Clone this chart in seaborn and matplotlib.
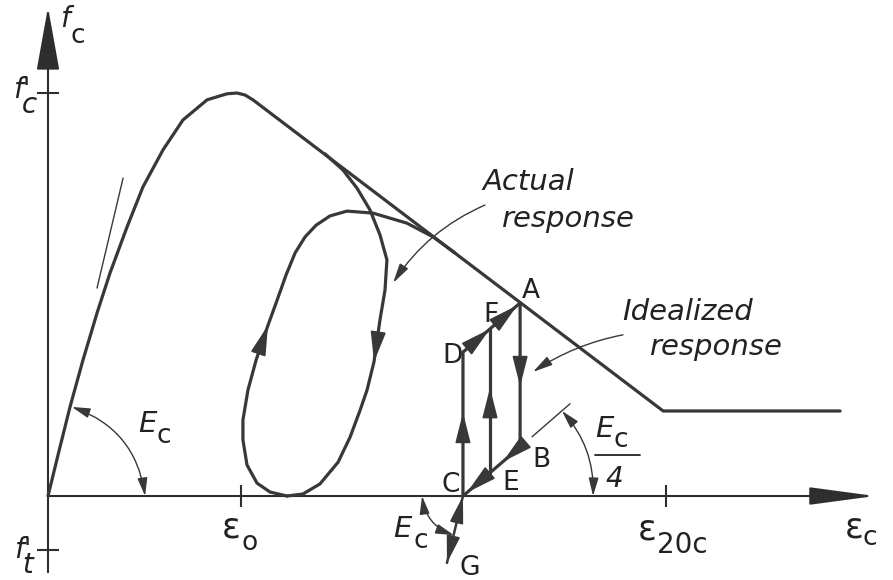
import matplotlib
matplotlib.use("Agg")
import matplotlib.pyplot as plt
import seaborn as sns
from matplotlib.patches import FancyArrowPatch

# Strain in units of eps_o, stress in units of f'c
env_strain = [0.0, 0.052, 0.114, 0.181, 0.254, 0.321, 0.409, 0.492, 0.596, 0.699,
              0.824, 0.927, 0.979, 1.021, 1.062, 3.187, 4.104]
env_stress = [0.0, 0.102, 0.221, 0.337, 0.454, 0.553, 0.667, 0.767, 0.859, 0.933,
              0.983, 0.998, 1.0, 0.995, 0.983, 0.211, 0.211]

# actual unloading branch (envelope -> zero stress)
unload_strain = [1.435, 1.528, 1.601, 1.668, 1.720, 1.756, 1.746, 1.720, 1.689, 1.653,
                 1.617, 1.565, 1.503, 1.409, 1.321, 1.238]
unload_stress = [0.849, 0.809, 0.764, 0.710, 0.648, 0.586, 0.511, 0.437, 0.333, 0.263,
                 0.213, 0.146, 0.084, 0.030, 0.005, 0.0]

# actual reloading branch (zero stress -> envelope)
reload_strain = [1.238, 1.150, 1.083, 1.031, 1.010, 1.010, 1.036, 1.078, 1.140, 1.187,
                 1.233, 1.280, 1.332, 1.389, 1.461, 1.549, 1.684, 1.860, 1.995, 2.109]
reload_stress = [0.0, 0.010, 0.032, 0.077, 0.139, 0.189, 0.263, 0.337, 0.424, 0.486,
                 0.548, 0.603, 0.643, 0.672, 0.695, 0.707, 0.702, 0.677, 0.643, 0.603]

# idealized cycle points
pt_names = ["A", "B", "C", "D", "E", "F", "G"]
pt_strain = [2.446, 2.446, 2.150, 2.150, 2.290, 2.290, 2.067]
pt_stress = [0.479, 0.122, 0.0, 0.357, 0.058, 0.415, -0.166]

# slope indicators
tan_strain = [0.254, 0.389]
tan_stress = [0.516, 0.789]
quarter_strain = [2.508, 2.705]
quarter_stress = [0.147, 0.229]

# axis reference values
eps_o = 1.0
eps_20c = 3.20
fc_peak = 1.0
ft_peak = -0.134

INK = "#383838"
TXT = "#222222"

sns.set_theme(style="white")
plt.rcParams["font.family"] = ["DejaVu Sans"]

fig = plt.figure(figsize=(8.93, 5.80), dpi=100)
ax = fig.add_axes([0, 0, 1, 1])
ax.set_xlim(-0.2487, 4.378)
ax.set_ylim(-0.2084, 1.2308)
ax.axis("off")

P = {n: (x, y) for n, x, y in zip(pt_names, pt_strain, pt_stress)}


def curve(xs, ys, lw=2.3, color=INK):
    sns.lineplot(x=xs, y=ys, sort=False, estimator=None, ax=ax, color=color,
                 linewidth=lw, legend=False, solid_capstyle="round")


def head(tail, tip, hl=1.9, hw=0.48, ms=10, color=INK):
    ax.add_patch(FancyArrowPatch(tail, tip, arrowstyle=f"-|>,head_length={hl},head_width={hw}",
                                 mutation_scale=ms, color=color, lw=1.2,
                                 shrinkA=0, shrinkB=0, zorder=5))


def seg_head(p0, p1, t, **kw):
    tip = (p0[0] + t * (p1[0] - p0[0]), p0[1] + t * (p1[1] - p0[1]))
    s = max(t - 0.25, 0.0)
    tail = (p0[0] + s * (p1[0] - p0[0]), p0[1] + s * (p1[1] - p0[1]))
    head(tail, tip, **kw)


def curve_head(xs, ys, i, **kw):
    head((xs[i - 1], ys[i - 1]), (xs[i], ys[i]), **kw)


def arc(pA, pB, rad, style="<|-|>", lw=1.0):
    ax.add_patch(FancyArrowPatch(pA, pB, connectionstyle=f"arc3,rad={rad}",
                                 arrowstyle=f"{style},head_length=1.1,head_width=0.3",
                                 mutation_scale=10, color=INK, lw=lw,
                                 shrinkA=0, shrinkB=0))


# axes with arrowheads
ax.add_patch(FancyArrowPatch((0, -0.189), (0, 1.213),
                             arrowstyle="-|>,head_length=4.0,head_width=0.72",
                             mutation_scale=10, color="#2e2e2e", lw=1.5, shrinkA=0, shrinkB=0))
ax.add_patch(FancyArrowPatch((0, 0), (4.285, 0),
                             arrowstyle="-|>,head_length=4.1,head_width=0.55",
                             mutation_scale=10, color="#2e2e2e", lw=1.5, shrinkA=0, shrinkB=0))

# tick marks
ax.plot([0, 0], [fc_peak, ft_peak], ls="none", marker="_", markersize=16, mew=1.5, color="#2e2e2e")
ax.plot([eps_o, eps_20c], [0, 0], ls="none", marker="|", markersize=16, mew=1.5, color="#2e2e2e")

# envelope / idealized envelope
curve(env_strain, env_stress)
# actual cycle
curve(unload_strain, unload_stress)
curve(reload_strain, reload_stress)
curve_head(unload_strain, unload_stress, 8)
curve_head(reload_strain, reload_stress, 8)

# idealized cycles
curve([P["A"][0], P["B"][0], P["C"][0]], [P["A"][1], P["B"][1], P["C"][1]])
curve([P["C"][0], P["D"][0], P["A"][0]], [P["C"][1], P["D"][1], P["A"][1]])
curve([P["E"][0], P["F"][0]], [P["E"][1], P["F"][1]])
curve([P["C"][0], P["G"][0]], [P["C"][1], P["G"][1]], lw=1.8)

seg_head(P["A"], P["B"], 0.58)
seg_head(P["B"], P["C"], 0.30)
seg_head(P["B"], P["C"], 0.93)
seg_head(P["C"], P["D"], 0.58)
seg_head(P["E"], P["F"], 0.59)
seg_head(P["D"], P["A"], 0.47)
seg_head(P["D"], P["A"], 0.95)
seg_head(P["G"], P["C"], 1.0, hl=1.7, hw=0.42)
seg_head(P["C"], P["G"], 1.0, hl=1.7, hw=0.42)

# slope indicators
curve(tan_strain, tan_stress, lw=1.0)
curve(quarter_strain, quarter_stress, lw=1.0)
arc((0.124, 0.221), (0.503, 0.0), -0.3)
arc((2.663, 0.211), (2.824, 0.0), -0.2)
arc((1.938, 0.0), (2.102, -0.097), 0.3)

# pointer arrows for the annotations
ax.add_patch(FancyArrowPatch((2.264, 0.722), (1.788, 0.529), connectionstyle="arc3,rad=0.15",
                             arrowstyle="-|>,head_length=1.2,head_width=0.3", mutation_scale=10,
                             color=INK, lw=1.0, shrinkA=0, shrinkB=0))
ax.add_patch(FancyArrowPatch((2.979, 0.400), (2.513, 0.308), connectionstyle="arc3,rad=0.1",
                             arrowstyle="-|>,head_length=1.2,head_width=0.3", mutation_scale=10,
                             color=INK, lw=1.0, shrinkA=0, shrinkB=0))

# text
def t(x, y, s, size=19, style="normal", **kw):
    ax.text(x, y, s, fontsize=size, style=style, color=TXT, ha="left", va="baseline", **kw)

t(2.254, 0.759, "Actual", 21, "italic")
t(2.352, 0.667, "response", 21, "italic")
t(2.974, 0.437, "Idealized", 21, "italic")
t(3.119, 0.350, "response", 21, "italic")

# axis symbols
t(0.062, 1.164, "f", 20, "italic"); t(0.114, 1.124, "c", 19)
t(-0.181, 0.950, "f'\n c", 20, "italic", linespacing=0.42)
t(-0.176, -0.191, "f'\n t", 20, "italic", linespacing=0.42)
t(0.902, -0.102, "ε", 25); t(1.005, -0.134, "o", 19)
t(3.057, -0.109, "ε", 25); t(3.155, -0.141, "20c", 20)
t(4.130, -0.104, "ε", 25); t(4.218, -0.122, "c", 19)

# modulus labels
t(0.466, 0.159, "E", 21, "italic"); t(0.560, 0.132, "c", 19)
t(1.790, -0.102, "E", 21, "italic"); t(1.892, -0.129, "c", 19)
t(2.834, 0.146, "E", 21, "italic"); t(2.930, 0.122, "c", 19)
ax.plot([2.834, 3.067], [0.102, 0.102], color=TXT, lw=1.3)
t(2.886, 0.022, "4", 20, "italic")

# point labels
offsets = {"A": (2, 5), "B": (12, -20), "C": (-21, 4), "D": (-21, -11),
           "E": (12, -17), "F": (-7, 7), "G": (13, -12)}
for n in pt_names:
    ax.annotate(n, xy=P[n], xytext=offsets[n], textcoords="offset pixels",
                fontsize=19, color=TXT, ha="left", va="baseline")

fig.savefig("out.png", dpi=100, facecolor="white")
